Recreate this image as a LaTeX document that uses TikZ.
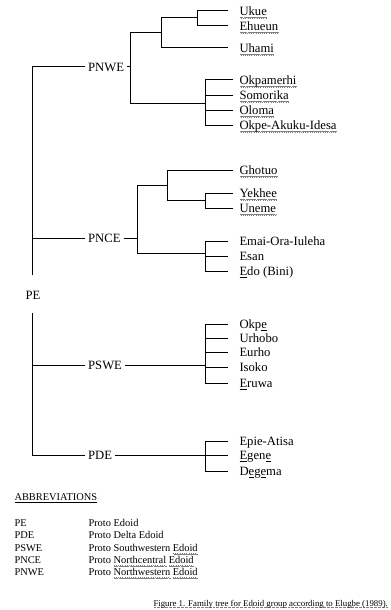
\documentclass[tikz,border=0pt]{standalone}
\usepackage{fontspec}
\setmainfont{Liberation Serif}
\usepackage{xcolor}
\usetikzlibrary{positioning}
\newcommand{\wavebit}{\hbox{\raise.45pt\hbox{\vrule width .4pt height .4pt}\vrule width .4pt height .4pt\lower.45pt\hbox{\vrule width .4pt height .4pt}\vrule width .4pt height .4pt}}
\newcommand{\wavy}[1]{\setbox0\hbox{#1}\rlap{\lower2pt\hbox to \wd0{\color{gray}\xleaders\wavebit\hfill}}\box0}
\newcommand{\dotcap}[1]{\setbox0\hbox{#1}\rlap{\lower1.4pt\hbox to \wd0{\color{gray}\xleaders\hbox to 1pt{\hss\vrule width .4pt height .4pt\hss}\hfill}}\box0}
\tikzset{
	lang/.style={anchor=west, inner xsep=2pt, inner ysep=0pt, text height=6.3pt, text depth=0pt, font=\fontsize{9.5}{11}\selectfont},
	leaf/.style={lang, inner xsep=4.5pt},
	short/.style={shorten >=3.75pt},
	abbr/.style={anchor=base west, inner sep=0pt, font=\fontsize{7.8}{9}\selectfont}
}

\begin{document}
\begin{tikzpicture}[x=0.75pt, y=-0.75pt, line width=0.75pt]
	\useasboundingbox (0,0) rectangle (391,610);
	\node [lang, anchor=center] (pe) at (33,295) {PE};
	\coordinate (pe-up) at (32,275);
	\coordinate (pe-dn) at (32,313);
	\node [lang] (pnwe) at (85,67) {PNWE};
	\node [lang] (pnce) at (85,238) {PNCE};
	\node [lang] (pswe) at (85,365) {PSWE};
	\node [lang] (pde) at (85,455) {PDE};
	\draw (pe-up) |- (pnwe.west);
	\draw (pe-up) |- (pnce.west);
	\draw (pe-dn) |- (pswe.west);
	\draw (pe-dn) |- (pde.west);

	\coordinate (nw) at (130,67);
	\coordinate (nw1) at (161,33);
	\coordinate (nw11) at (197,18);
	\coordinate (nw2) at (205,103);
	\node [leaf] (ukue) at (233,11) {\wavy{Ukue}};
	\node [leaf] (ehueun) at (233,26) {\wavy{Ehueun}};
	\node [leaf] (uhami) at (233,48) {\wavy{Uhami}};
	\node [leaf] (okpamerhi) at (233,80) {\wavy{Okpamerhi}};
	\node [leaf] (somorika) at (233,95) {\wavy{Somorika}};
	\node [leaf] (oloma) at (233,110) {\wavy{Oloma}};
	\node [leaf] (okpeai) at (233,125) {\wavy{Okpe-Akuku-Idesa}};
	\draw (pnwe.east) -- (nw);
	\draw (nw) |- (nw1);
	\draw (nw) |- (nw2);
	\draw (nw1) |- (nw11);
	\draw [short] (nw1) |- (uhami.west);
	\draw [short] (nw11) |- (ukue.west);
	\draw [short] (nw11) |- (ehueun.west);
	\draw (nw2) |- (okpamerhi.west);
	\draw (nw2) |- (somorika.west);
	\draw (nw2) |- (oloma.west);
	\draw (nw2) |- (okpeai.west);

	\coordinate (nc) at (137,238);
	\coordinate (nc1) at (167,185);
	\coordinate (nc11) at (205,200);
	\coordinate (nc2) at (205,253);
	\node [leaf] (ghotuo) at (233,170) {\wavy{Ghotuo}};
	\node [leaf] (yekhee) at (233,193) {\wavy{Yekhee}};
	\node [leaf] (uneme) at (233,208) {\wavy{Uneme}};
	\node [leaf] (emai) at (233,241) {Emai-Ora-Iuleha};
	\node [leaf] (esan) at (233,256) {Esan};
	\node [leaf] (edo) at (233,271) {\underline{E}do (Bini)};
	\draw (pnce.east) -- (nc);
	\draw (nc) |- (nc1);
	\draw (nc) |- (nc2);
	\draw (nc1) |- (ghotuo.west);
	\draw (nc1) |- (nc11);
	\draw (nc11) |- (yekhee.west);
	\draw (nc11) |- (uneme.west);
	\draw [short] (nc2) |- (emai.west);
	\draw [short] (nc2) |- (esan.west);
	\draw [short] (nc2) |- (edo.west);

	\coordinate (sw) at (205,365);
	\node [leaf] (okpe) at (233,324) {Okp\underline{e}};
	\node [leaf] (urhobo) at (233,338) {Urhobo};
	\node [leaf] (eurho) at (233,352) {Eurho};
	\node [leaf] (isoko) at (233,367) {Isoko};
	\node [leaf] (eruwa) at (233,383) {\underline{E}ruwa};
	\draw (pswe.east) -- (sw);
	\draw [short] (sw) |- (okpe.west);
	\draw [short] (sw) |- (urhobo.west);
	\draw [short] (sw) |- (eurho.west);
	\draw [short] (sw) |- (isoko.west);
	\draw [short] (sw) |- (eruwa.west);

	\coordinate (pd) at (205,455);
	\node [leaf] (epie) at (233,441) {Epie-Atisa};
	\node [leaf] (egene) at (233,455) {\underline{E}gen\underline{e}};
	\node [leaf] (degema) at (233,471) {D\underline{e}g\underline{e}ma};
	\draw (pde.east) -- (pd);
	\draw [short] (pd) |- (epie.west);
	\draw [short] (pd) |- (egene.west);
	\draw [short] (pd) |- (degema.west);

	\node [abbr] (abbrev) at (14,500) {\underline{ABBREVIATIONS}};
	\node [abbr] (ab-pe) at (14,526.5) {PE};
	\node [abbr] (ab-pde) at (14,538.5) {PDE};
	\node [abbr] (ab-pswe) at (14,551.5) {PSWE};
	\node [abbr] (ab-pnce) at (14,563.5) {PNCE};
	\node [abbr] (ab-pnwe) at (14,575.5) {PNWE};
	\node [abbr] (de-pe) at (88,526.5) {Proto Edoid};
	\node [abbr] (de-pde) at (88,538.5) {Proto Delta Edoid};
	\node [abbr] (de-pswe) at (88,551.5) {Proto Southwestern\ \wavy{Edoid}};
	\node [abbr] (de-pnce) at (88,563.5) {Proto \wavy{Northcentral}\ \wavy{Edoid}};
	\node [abbr] (de-pnwe) at (88,575.5) {Proto \wavy{Northwestern}\ \wavy{Edoid}};
	\node [abbr, font=\fontsize{6.6}{8}\selectfont] (caption) at (153,606) {\dotcap{Figure 1. Family tree for Edoid group according to Elugbe (1989).}};
\end{tikzpicture}
\end{document}
